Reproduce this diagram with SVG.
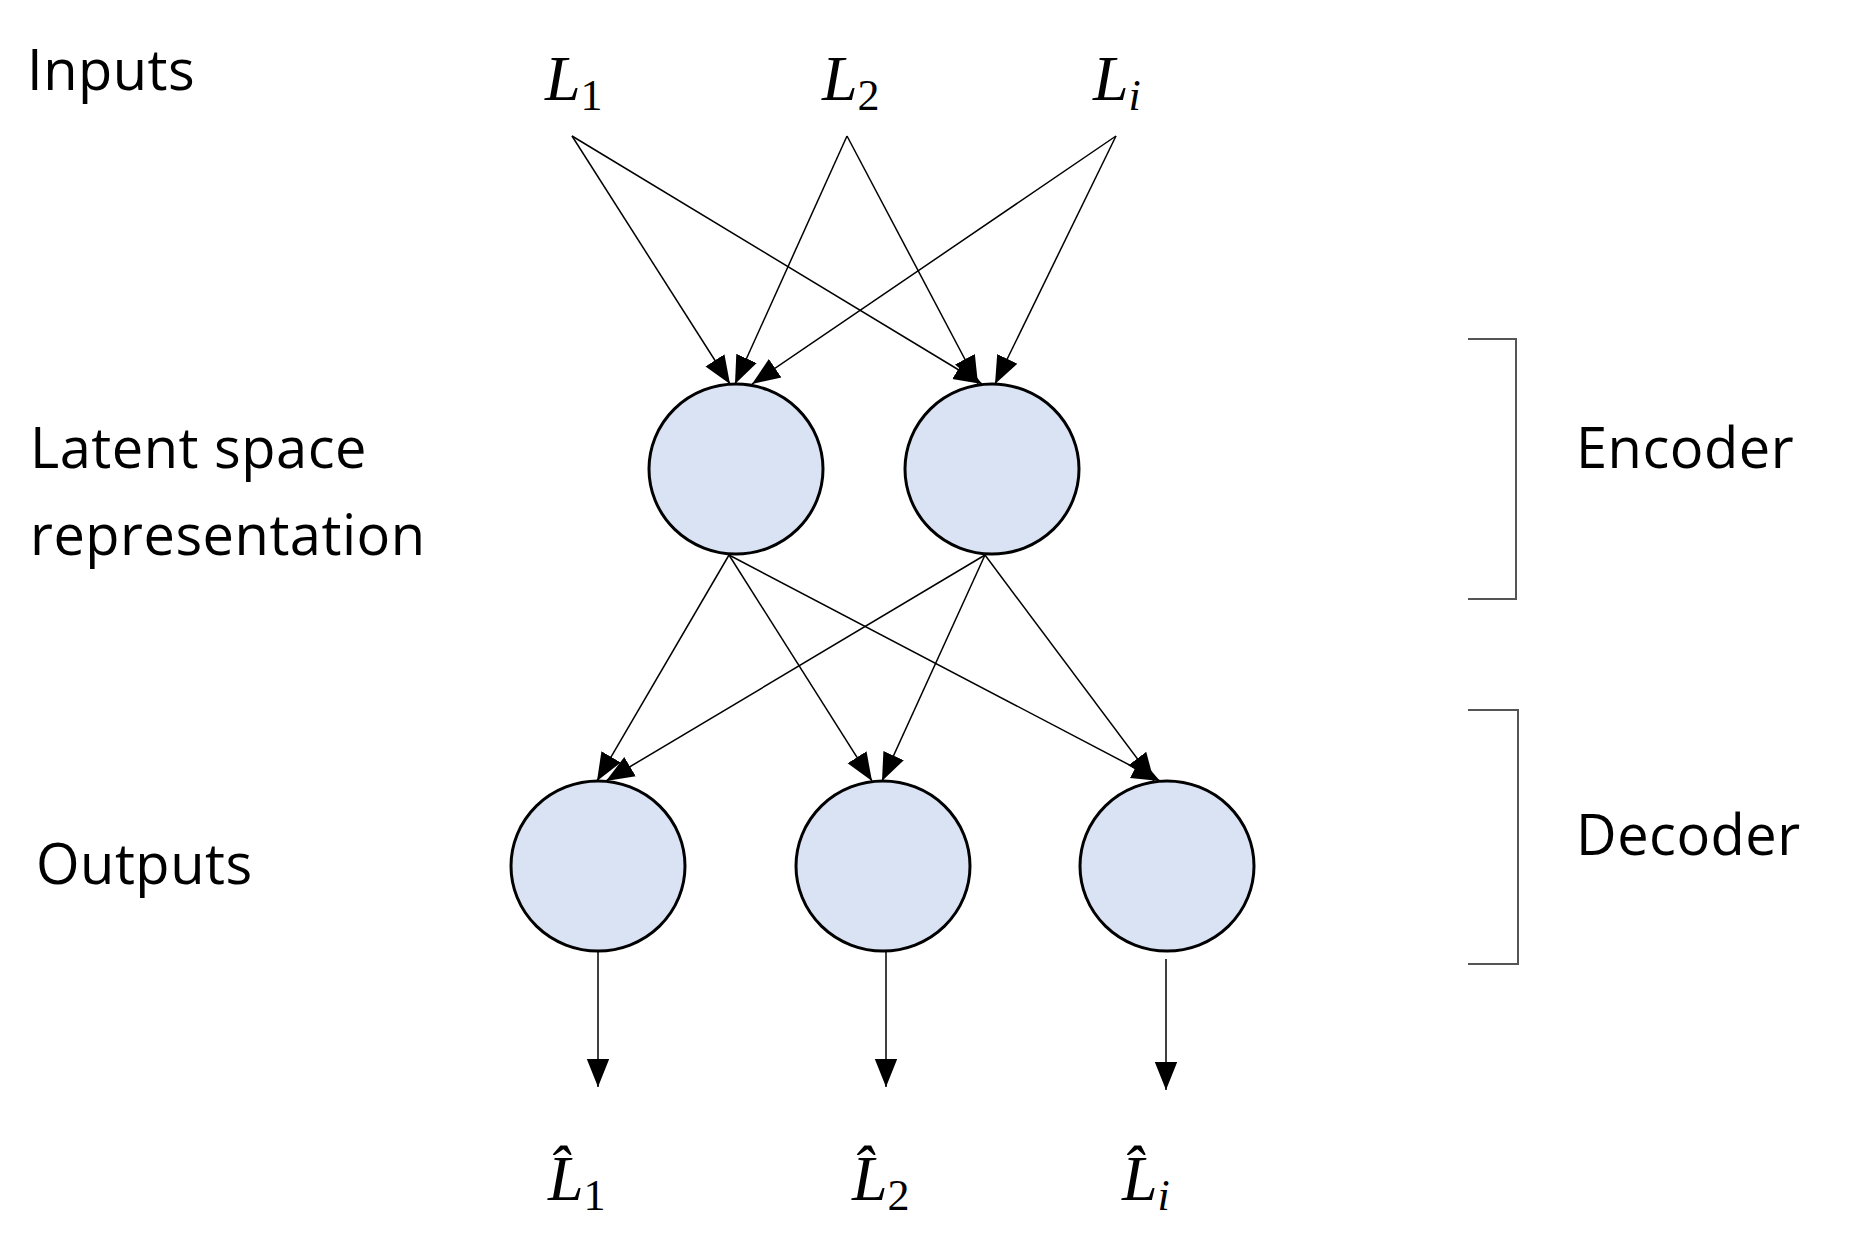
<svg xmlns="http://www.w3.org/2000/svg" width="1876" height="1240" viewBox="0 0 1876 1240">
<style>
.t{font-family:"Open Sans","Liberation Sans",sans-serif;font-size:56px;fill:#000;letter-spacing:0.5px}
.m{font-family:"Liberation Serif",serif;font-style:italic;font-size:64px;fill:#000}
.s{font-family:"Liberation Serif",serif;font-size:44px;fill:#000}
.si{font-family:"Liberation Serif",serif;font-style:italic;font-size:44px;fill:#000}
.n{fill:#dae3f3;stroke:#000;stroke-width:3}
.c{stroke:#000;stroke-width:1.5;fill:none}
.b{stroke:#555;stroke-width:2;fill:none}
</style>
<defs>
<marker id="b" viewBox="0 0 10 10" refX="10" refY="5" markerWidth="28" markerHeight="28" markerUnits="userSpaceOnUse" orient="auto"><path d="M0,1L10,5L0,9z" fill="#000"/></marker></defs>
<g id="labels">
<text class="t" x="27" y="90">Inputs</text>
<text class="t" x="30" y="468">Latent space</text>
<text class="t" x="30" y="555">representation</text>
<text class="t" x="36" y="884">Outputs</text>
<text class="t" x="1576" y="468">Encoder</text>
<text class="t" x="1576" y="855">Decoder</text>
</g>
<g id="inputs">
<text x="545" y="100"><tspan class="m">L</tspan><tspan class="s" dy="10">1</tspan></text>
<text x="822" y="100"><tspan class="m">L</tspan><tspan class="s" dy="10">2</tspan></text>
<text x="1093" y="100"><tspan class="m">L</tspan><tspan class="si" dy="10">i</tspan></text>
</g>
<g id="output-labels">
<text x="548" y="1200"><tspan class="m">L&#x302;</tspan><tspan class="s" dy="10">1</tspan></text>
<text x="852" y="1200"><tspan class="m">L&#x302;</tspan><tspan class="s" dy="10">2</tspan></text>
<text x="1122" y="1200"><tspan class="m">L&#x302;</tspan><tspan class="si" dy="10">i</tspan></text>
</g>
<g id="connectors" marker-end="url(#b)">
<line class="c" x1="572" y1="136" x2="730" y2="384" marker-end="url(#b)"/>
<line class="c" x1="572" y1="136" x2="982" y2="384" marker-end="url(#b)"/>
<line class="c" x1="847" y1="136" x2="735" y2="384" marker-end="url(#b)"/>
<line class="c" x1="847" y1="136" x2="978" y2="384" marker-end="url(#b)"/>
<line class="c" x1="1116" y1="136" x2="752" y2="384" marker-end="url(#b)"/>
<line class="c" x1="1116" y1="136" x2="995" y2="384" marker-end="url(#b)"/>
<line class="c" x1="729" y1="555" x2="597" y2="781" marker-end="url(#b)"/>
<line class="c" x1="729" y1="555" x2="872" y2="781" marker-end="url(#b)"/>
<line class="c" x1="729" y1="555" x2="1160" y2="781" marker-end="url(#b)"/>
<line class="c" x1="985" y1="555" x2="606" y2="781" marker-end="url(#b)"/>
<line class="c" x1="985" y1="555" x2="882" y2="781" marker-end="url(#b)"/>
<line class="c" x1="985" y1="555" x2="1154" y2="781" marker-end="url(#b)"/>
<line class="c" x1="598" y1="951" x2="598" y2="1087" marker-end="url(#b)"/>
<line class="c" x1="886" y1="951" x2="886" y2="1087" marker-end="url(#b)"/>
<line class="c" x1="1166" y1="959" x2="1166" y2="1090" marker-end="url(#b)"/>
</g>
<g id="latent1"><ellipse class="n" cx="736" cy="469" rx="87" ry="85"/></g>
<g id="latent2"><ellipse class="n" cx="992" cy="469" rx="87" ry="85"/></g>
<g id="latent1b" display="none"/>
<g id="out1"><ellipse class="n" cx="598" cy="866" rx="87" ry="85"/></g>
<g id="out2"><ellipse class="n" cx="883" cy="866" rx="87" ry="85"/></g>
<g id="out3"><ellipse class="n" cx="1167" cy="866" rx="87" ry="85"/></g>
<g id="brackets">
<path class="b" d="M1468,339 H1516 V599 H1468"/>
<path class="b" d="M1468,710 H1518 V964 H1468"/>
</g>
</svg>
